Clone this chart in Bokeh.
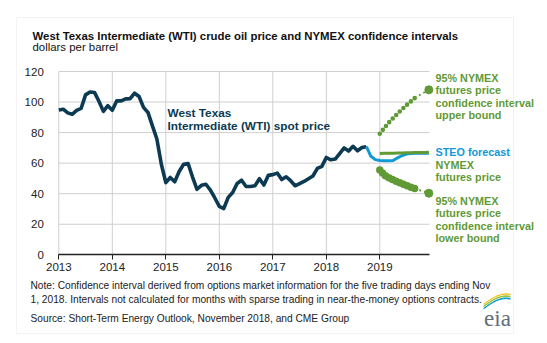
import numpy as np
from bokeh.plotting import figure
from bokeh.models import Range1d, FixedTicker, Label, BoxAnnotation, PolyAnnotation
from bokeh.embed import file_html
from bokeh.resources import INLINE

# ---------------- data ----------------
year_ticks = [2013, 2014, 2015, 2016, 2017, 2018, 2019]
year_labels = ["2013", "2014", "2015", "2016", "2017", "2018", "2019"]
y_ticks = [0, 20, 40, 60, 80, 100, 120]
x_axis_end = 2019.93   # right end of the plotted period

# WTI monthly spot price, Jan 2013 - Oct 2018
wti_start = (2013, 1)
wti = [94.8, 95.3, 92.9, 92.0, 94.5, 95.8, 104.7, 106.6, 106.3, 100.5, 93.9, 97.6,
       94.6, 100.8, 100.8, 102.1, 102.2, 105.8, 103.6, 96.5, 93.2, 84.4, 75.8, 59.3,
       47.2, 50.6, 47.8, 54.5, 59.3, 59.8, 50.9, 42.9, 45.5, 46.2, 42.4, 37.2,
       31.7, 30.3, 37.6, 40.8, 46.7, 48.8, 44.7, 44.7, 45.2, 49.8, 45.7, 52.0,
       52.5, 53.5, 49.3, 51.1, 48.5, 45.2, 46.6, 48.0, 49.8, 51.6, 56.6, 57.9,
       63.7, 62.2, 62.7, 66.3, 70.0, 67.9, 71.0, 68.1, 70.2, 70.8]

# STEO forecast, Oct 2018 - Dec 2019
steo_start = (2018, 10)
steo = [70.8, 64.5, 62.3, 61.7, 61.5, 61.5, 61.7, 63.5, 65.0, 66.0, 66.3, 66.5, 66.5, 66.5, 66.5]

# NYMEX futures and 95% confidence interval, Jan 2019 - Dec 2019 (None = not calculated)
nymex_start = (2019, 1)
nymex = [66.3, 66.4, 66.5, 66.5, 66.6, 66.7, 66.8, 66.8, 66.9, 67.0, 67.0, 67.1]
ci_upper = [79.2, 83.0, 86.5, 89.5, 92.5, 95.3, 98.0, 100.5, 103.0, None, None, 108.0]
ci_lower = [55.5, 52.3, 50.4, 49.0, 47.8, 46.5, 45.3, 44.2, 43.2, None, None, 40.3]


def month_x(start, n):
    y, m = start
    return [y + (m - 1 + i) / 12.0 for i in range(n)]


def nan(vals):
    return [np.nan if v is None else v for v in vals]


wti_x = month_x(wti_start, len(wti))
steo_x = month_x(steo_start, len(steo))
nym_x = month_x(nymex_start, len(nymex))

# ---------------- styling ----------------
FONT = "Liberation Sans"
DARK = "#0b3a52"
BLUE = "#0f9ad6"
GREEN = "#5f9a35"
GRID = "#cfcfcf"
TXT = "#222222"

W, H = 547, 343
X0PX, PXYR = 58.3, 53.5      # canvas x of 2013 and pixels per year
Y0PX, PXU = 254.3, 1.5275    # canvas y of value 0 and pixels per dollar

x_start = year_ticks[0] - X0PX / PXYR
y_start = -(H - Y0PX) / PXU
p = figure(width=W, height=H, output_backend="svg", toolbar_location=None,
           x_range=Range1d(x_start, x_start + W / PXYR),
           y_range=Range1d(y_start, y_start + H / PXU),
           min_border_left=0, min_border_right=0,
           min_border_top=0, min_border_bottom=0)
p.background_fill_color = "white"
p.border_fill_color = "white"
p.outline_line_color = None
p.grid.visible = False

# grid lines limited to the plotting period
p.segment(x0=year_ticks, x1=year_ticks, y0=[y_ticks[0]] * len(year_ticks),
          y1=[y_ticks[-1]] * len(year_ticks), line_color=GRID, line_width=1)
p.segment(x0=[year_ticks[0]] * (len(y_ticks) - 1), x1=[x_axis_end] * (len(y_ticks) - 1),
          y0=y_ticks[1:], y1=y_ticks[1:], line_color=GRID, line_width=1)

p.xaxis.fixed_location = 0
p.xaxis.bounds = (year_ticks[0], x_axis_end)
p.xaxis.ticker = FixedTicker(ticks=year_ticks)
p.xaxis.major_label_overrides = {t: l for t, l in zip(year_ticks, year_labels)}
p.xaxis.axis_line_color = "#222222"
p.xaxis.axis_line_width = 1.3
p.xaxis.major_tick_line_color = "#222222"
p.xaxis.major_tick_out = 5
p.xaxis.major_tick_in = 0
p.xaxis.minor_tick_line_color = None
p.xaxis.major_label_standoff = 3
p.xaxis.major_label_text_font = FONT
p.xaxis.major_label_text_font_size = "11.5px"
p.xaxis.major_label_text_color = TXT

p.yaxis.fixed_location = year_ticks[0]
p.yaxis.bounds = (y_ticks[0], y_ticks[-1])
p.yaxis.ticker = FixedTicker(ticks=y_ticks)
p.yaxis.axis_line_color = None
p.yaxis.major_tick_line_color = None
p.yaxis.minor_tick_line_color = None
p.yaxis.major_label_standoff = 9
p.yaxis.major_label_text_font = FONT
p.yaxis.major_label_text_font_size = "11.5px"
p.yaxis.major_label_text_color = TXT

# ---------------- series ----------------
p.line(wti_x, wti, line_color=DARK, line_width=3.6, line_join="round")
p.line(steo_x, steo, line_color=BLUE, line_width=3, line_join="round")
p.line(nym_x, nymex, line_color=GREEN, line_width=3)

up = nan(ci_upper)
lo = nan(ci_lower)
p.line(nym_x, up, line_color=GREEN, line_width=4.6, line_dash="0 5", line_cap="round")
p.line(nym_x, lo, line_color=GREEN, line_width=7.5, line_dash="0 4", line_cap="round")
# thin dotted connection across months without intervals
i0, i1 = 8, 11
for series in (ci_upper, ci_lower):
    p.line([nym_x[i0], nym_x[i1]], [series[i0], series[i1]], line_color=GREEN,
           line_width=2.2, line_dash="0 5", line_cap="round")
    p.scatter([nym_x[i1]], [series[i1]], size=8, color=GREEN)


# ---------------- texts (canvas pixel positions) ----------------
def lab(x, y, text, size="11px", color=TXT, style="normal", font=FONT, align="left"):
    p.add_layout(Label(x=x, y=H - y, x_units="screen", y_units="screen",
                       text=text, text_font=font, text_font_size=size,
                       text_color=color, text_font_style=style,
                       text_baseline="middle", text_align=align))


lab(32, 35, "West Texas Intermediate (WTI) crude oil price and NYMEX confidence intervals",
    size="11.4px", color="#111111", style="bold")
lab(32, 46, "dollars per barrel", size="11.4px", color="#111111")

lab(167, 112, "West Texas", size="11.8px", color=DARK, style="bold")
lab(167, 125, "Intermediate (WTI) spot price", size="11.8px", color=DARK, style="bold")

for yy, t in zip([77, 89.5, 102, 114.5],
                 ["95% NYMEX", "futures price", "confidence interval", "upper bound"]):
    lab(435, yy, t, size="10.8px", color=GREEN, style="bold")
lab(435, 151, "STEO forecast", size="10.8px", color=BLUE, style="bold")
for yy, t in zip([164, 176.5], ["NYMEX", "futures price"]):
    lab(435, yy, t, size="10.8px", color=GREEN, style="bold")
for yy, t in zip([200, 212.5, 225, 237.5],
                 ["95% NYMEX", "futures price", "confidence interval", "lower bound"]):
    lab(435, yy, t, size="10.8px", color=GREEN, style="bold")

lab(30, 285, "Note: Confidence interval derived from options market information for the five trading days ending Nov",
    size="10.2px", color="#222222")
lab(30, 299, "1, 2018. Intervals not calculated for months with sparse trading in near-the-money options contracts.",
    size="10.2px", color="#222222")
lab(30, 318, "Source: Short-Term Energy Outlook, November 2018, and CME Group",
    size="10.2px", color="#222222")

# outer frame
p.add_layout(BoxAnnotation(left=16, right=513, top=H - 17, bottom=H - 333,
                           left_units="screen", right_units="screen",
                           top_units="screen", bottom_units="screen",
                           fill_alpha=0, line_color="#d6d6d6", line_width=1))

# eia logo
lab(497, 318, "eia", size="23px", color="#5e6e7c", font="Liberation Serif", align="center")
t = np.linspace(0, 1, 30)
for col, off, wd in ((BLUE, 0, 1.6), ("#8cc63f", 2.2, 1.6), ("#f4c21b", 4.4, 1.4)):
    xs = 483 + 27 * t
    ys = 309 - off - 13 * np.sin(t * np.pi * 0.55) + 3 * t
    px = list(xs) + list(xs[::-1])
    py = list(ys) + list((ys - wd)[::-1])
    p.add_layout(PolyAnnotation(xs=list(px), ys=[H - y for y in py],
                                xs_units="screen", ys_units="screen",
                                fill_color=col, fill_alpha=1, line_color=None))

open("out.html", "w").write(file_html(p, INLINE))
